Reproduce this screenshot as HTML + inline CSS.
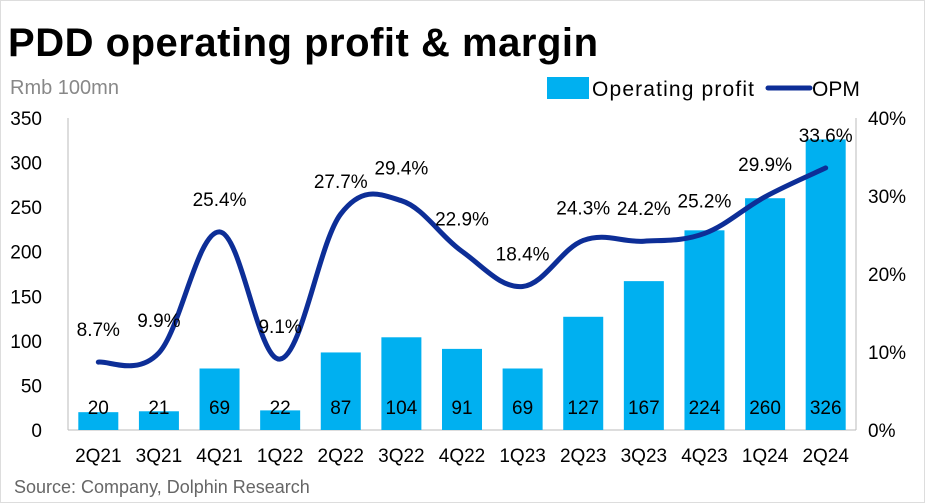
<!DOCTYPE html>
<html><head><meta charset="utf-8"><style>
body{margin:0;background:#fff;}
svg{display:block;font-family:"Liberation Sans","DejaVu Sans",sans-serif;}
</style></head><body>
<svg id="c" width="925" height="503" viewBox="0 0 925 503">
<rect x="0.5" y="0.5" width="924" height="502" fill="#fff" stroke="#ddd"/>
<text x="8" y="56" font-size="40" font-weight="bold" fill="#000" textLength="590">PDD operating profit &amp; margin</text>
<text x="10" y="94" font-size="20" fill="#888">Rmb 100mn</text>
<g>
<rect x="547" y="77" width="42" height="22" fill="#00b0f0"/>
<text x="592" y="96" font-size="21" fill="#000" textLength="162">Operating profit</text>
<line x1="768" y1="88" x2="810" y2="88" stroke="#0d2e97" stroke-width="5" stroke-linecap="round"/>
<text x="812" y="96" font-size="21" fill="#000">OPM</text>
</g>
<g id="axes"></g>
<g id="bars"></g>
<g id="line"></g>
<text x="14" y="493" font-size="18" fill="#666">Source: Company, Dolphin Research</text>
</svg>
<script>
const categories=["2Q21","3Q21","4Q21","1Q22","2Q22","3Q22","4Q22","1Q23","2Q23","3Q23","4Q23","1Q24","2Q24"];
const profit=[20,21,69,22,87,104,91,69,127,167,224,260,326];
const opm=[8.7,9.9,25.4,9.1,27.7,29.4,22.9,18.4,24.3,24.2,25.2,29.9,33.6];
const leftTicks=[0,50,100,150,200,250,300,350];
const rightTicks=[0,10,20,30,40];
const NS="http://www.w3.org/2000/svg";
const X0=68,X1=856,Y0=430,Y1=118;
const step=(X1-X0)/categories.length;
const xc=i=>X0+step*(i+0.5);
const yL=v=>Y0-(v/350)*(Y0-Y1);
const yR=v=>Y0-(v/40)*(Y0-Y1);
function mk(t,a,p){const e=document.createElementNS(NS,t);for(const k in a)e.setAttribute(k,a[k]);p.appendChild(e);return e;}
const ax=document.getElementById('axes'),bg=document.getElementById('bars'),lg=document.getElementById('line');
let e;
e=mk('line',{x1:X0,y1:Y1,x2:X0,y2:Y0,stroke:'#bbb'},ax);


e=mk('line',{x1:X1,y1:Y1,x2:X1,y2:Y0,stroke:'#bbb'},ax);


e=mk('line',{x1:X0,y1:Y0,x2:X1,y2:Y0,stroke:'#bbb'},ax);


leftTicks.forEach(v=>{
 e=mk('text',{x:42,y:yL(v)+7,'font-size':19,'text-anchor':'end'},ax);e.textContent=v;
 
 
});
rightTicks.forEach(v=>{
 e=mk('text',{x:868,y:yR(v)+7,'font-size':19},ax);e.textContent=v+'%';
 
 
});
categories.forEach((c,i)=>{
 e=mk('text',{x:xc(i),y:462,'font-size':19,'text-anchor':'middle'},ax);e.textContent=c;
 
 
 const w=40;
 e=mk('rect',{x:xc(i)-w/2,y:yL(profit[i]),width:w,height:Y0-yL(profit[i]),fill:'#00b0f0'},bg);
 
 
 e=mk('text',{x:xc(i),y:414,'font-size':19,'text-anchor':'middle',fill:'#000'},bg);e.textContent=profit[i];
 
 
});
const pts=opm.map((v,i)=>[xc(i),yR(v)]);
let d='M'+pts[0][0]+','+pts[0][1];
for(let i=0;i<pts.length-1;i++){
 const p0=pts[Math.max(i-1,0)],p1=pts[i],p2=pts[i+1],p3=pts[Math.min(i+2,pts.length-1)];
 const t=0.18;
 d+=' C'+(p1[0]+(p2[0]-p0[0])*t)+','+(p1[1]+(p2[1]-p0[1])*t)+' '+(p2[0]-(p3[0]-p1[0])*t)+','+(p2[1]-(p3[1]-p1[1])*t)+' '+p2[0]+','+p2[1];
}
e=mk('path',{d:d,fill:'none',stroke:'#0d2e97','stroke-width':5,'stroke-linecap':'round'},lg);


opm.forEach((v,i)=>{
 e=mk('text',{x:xc(i),y:yR(v)-26,'font-size':19,'text-anchor':'middle'},lg);e.textContent=v.toFixed(1)+'%';
 
 
});
</script>
</body></html>
